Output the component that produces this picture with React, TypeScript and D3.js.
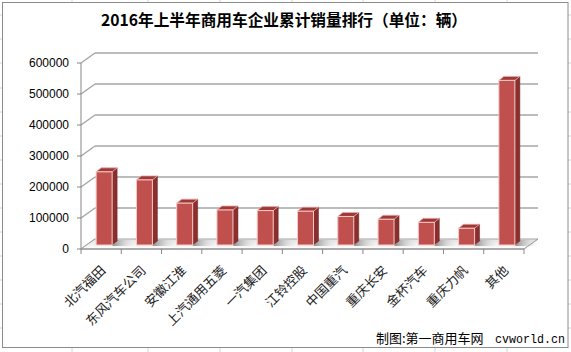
import * as d3 from "d3";

const categories = [
  "北汽福田",
  "东风汽车公司",
  "安徽江淮",
  "上汽通用五菱",
  "一汽集团",
  "江铃控股",
  "中国重汽",
  "重庆长安",
  "金杯汽车",
  "重庆力帆",
  "其他",
];
const sales = [236000, 210000, 135000, 113000, 111000, 109000, 92000, 83000, 73000, 54000, 531000];
const yTicks = [0, 100000, 200000, 300000, 400000, 500000, 600000];
const title = "2016年上半年商用车企业累计销量排行（单位：辆）";
const creditCn = "制图:第一商用车网";
const creditUrl = "cvworld.cn";

// spreadsheet grid showing around the chart
const sheetCols = [72, 148, 220, 292, 363, 435, 507];
const sheetRows = [15, 39, 63, 88, 112, 136, 160, 184, 208, 232, 256, 280, 304, 328];

const W = 571;
const H = 352;
// depth of the 3d box
const DX = 14;
const DY = -10;

export default function App() {
  const x = d3.scaleBand().domain(categories).range([81, 524]);
  const y = d3.scaleLinear().domain([0, 600000]).range([249, 63]);

  const barW = 16;
  const bdx = 5; // bar depth
  const bdy = -4;
  const off = 3; // bar plane offset from front
  const base = y(0) - 4;

  const pts = (p: number[][]) => p.map((d) => d.join(",")).join(" ");

  return (
    <svg
      width={W}
      height={H}
      style={{ position: "absolute", left: 0, top: 0, background: "#fff" }}
    >
      <defs>
        <linearGradient id="shadow" x1="0" x2="1" y1="0" y2="0">
          <stop offset="0" stopColor="#8a8a8a" />
          <stop offset="1" stopColor="#ffffff" stopOpacity="0" />
        </linearGradient>
        <linearGradient id="floor" x1="0" x2="0" y1="0" y2="1">
          <stop offset="0" stopColor="#e2e2e2" />
          <stop offset="1" stopColor="#ffffff" />
        </linearGradient>
      </defs>

      {/* sheet grid outside chart */}
      {sheetCols.map((c) => (
        <g key={"c" + c} stroke="#d4d4d4">
          <line x1={c} x2={c} y1={0} y2={3} />
          <line x1={c} x2={c} y1={347} y2={H} />
        </g>
      ))}
      {sheetRows.map((r) => (
        <g key={"r" + r} stroke="#d4d4d4">
          <line x1={0} x2={3} y1={r} y2={r} />
          <line x1={568} x2={W} y1={r} y2={r} />
        </g>
      ))}
      <rect x={2.5} y={2.5} width={565.5} height={345} fill="#fff" stroke="#8c8c8c" />

      <text
        x={284}
        y={26}
        textAnchor="middle"
        fontFamily="Noto Sans CJK SC"
        fontWeight={700}
        fontSize={16}
        textLength={366}
        lengthAdjust="spacingAndGlyphs"
      >
        {title}
      </text>

      {/* back wall gridlines */}
      {yTicks.map((t) => (
        <g key={t} stroke="#a6a6a6" strokeWidth={1.5} fill="none">
          <line x1={81} y1={y(t)} x2={81 + DX} y2={y(t) + DY} />
          {t > 0 && <line x1={81 + DX} y1={y(t) + DY} x2={524 + DX} y2={y(t) + DY} />}
        </g>
      ))}

      {/* floor */}
      <polygon
        points={pts([
          [81, y(0)],
          [524, y(0)],
          [524 + DX, y(0) + DY],
          [81 + DX, y(0) + DY],
        ])}
        fill="url(#floor)"
        stroke="#a6a6a6"
        strokeWidth={1}
      />

      {/* bars */}
      {categories.map((c, i) => {
        const cx = (x(c) as number) + x.bandwidth() / 2 + off;
        const x0 = cx - barW / 2;
        const x1 = cx + barW / 2;
        const top = y(sales[i]) - 4;
        return (
          <g key={c}>
            <polygon
              points={pts([
                [x1 + bdx, base + bdy - 1],
                [x1 + bdx + 22, base + bdy - 1],
                [x1 + 20, base + 1],
                [x1, base + 1],
              ])}
              fill="url(#shadow)"
            />
            <polygon
              points={pts([
                [x1, base],
                [x1 + bdx, base + bdy],
                [x1 + bdx, top + bdy],
                [x1, top],
              ])}
              fill="#8a2f2d"
              stroke="#6e2321"
              strokeWidth={0.5}
            />
            <polygon
              points={pts([
                [x0, top],
                [x1, top],
                [x1 + bdx, top + bdy],
                [x0 + bdx, top + bdy],
              ])}
              fill="#9e3936"
              stroke="#e7aaa8"
              strokeWidth={0.8}
            />
            <rect
              x={x0}
              y={top}
              width={barW}
              height={base - top}
              fill="#c0504d"
              stroke="#f6cac8"
              strokeWidth={1}
            />
          </g>
        );
      })}

      {/* y axis */}
      <line x1={81} x2={81} y1={y(600000)} y2={y(0)} stroke="#868686" />
      {yTicks.map((t) => (
        <g key={"yt" + t}>
          <line x1={77} x2={81} y1={y(t)} y2={y(t)} stroke="#868686" />
          <text
            x={69}
            y={y(t)}
            dy="0.35em"
            textAnchor="end"
            fontFamily="Liberation Sans, Arial"
            fontSize={12}
          >
            {String(t)}
          </text>
        </g>
      ))}

      {/* x axis */}
      <line x1={81} x2={524} y1={y(0)} y2={y(0)} stroke="#868686" />
      <line x1={524} y1={y(0)} x2={524 + DX} y2={y(0) + DY} stroke="#a6a6a6" />
      {categories.concat([""]).map((c, i) => {
        const tx = 81 + i * x.step();
        return <line key={"xt" + i} x1={tx} x2={tx} y1={y(0)} y2={y(0) + 5} stroke="#868686" />;
      })}
      {categories.map((c) => {
        const cx = (x(c) as number) + x.bandwidth() / 2;
        return (
          <text
            key={"xl" + c}
            transform={`translate(${cx + 2},${y(0) + 19}) rotate(-45)`}
            textAnchor="end"
            dy="0.35em"
            fontFamily="Noto Sans CJK SC"
            fontSize={13}
            fill="#222"
          >
            {c}
          </text>
        );
      })}

      <text x={376} y={343} fontFamily="Noto Sans CJK SC" fontSize={13}>
        {creditCn}
      </text>
      <text
        x={495}
        y={343}
        fontFamily="Liberation Mono"
        fontSize={12}
        textLength={70}
        lengthAdjust="spacingAndGlyphs"
      >
        {creditUrl}
      </text>
    </svg>
  );
}
